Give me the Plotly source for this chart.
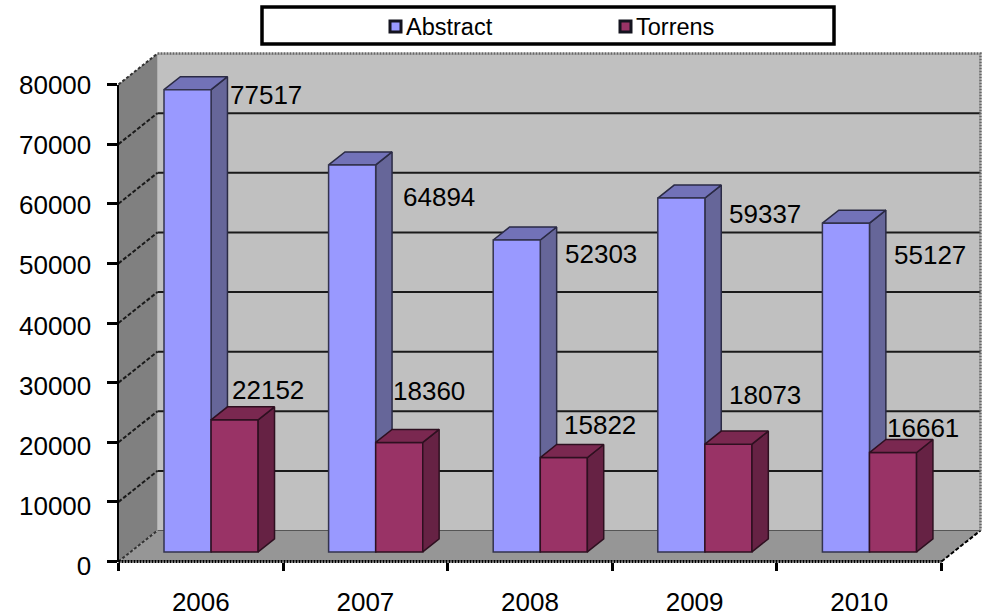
import plotly.graph_objects as go

# ---- data ----
years = ["2006", "2007", "2008", "2009", "2010"]
abstract = [77517, 64894, 52303, 59337, 55127]
torrens = [22152, 18360, 15822, 18073, 16661]
y_ticks = [0, 10000, 20000, 30000, 40000, 50000, 60000, 70000, 80000]

# ---- geometry (figure pixels) ----
W, H = 989, 616
FX0, FX1 = 118.5, 941.5  # front plane left / right
FY0, FY1 = 561.5, 84.5   # front plane y of value 0 / 80000
LY0, LY1 = 566, 85       # y-tick labels' own spacing
n = len(years)
top = y_ticks[-1]
UX = (FX1 - FX0) / n         # pixels per category
UY = (FY0 - FY1) / top       # pixels per value unit
DEPTH_DX = 39 / UX           # depth offset in category units
DEPTH_DY = 31 / UY           # depth offset in value units
Z0, Z1 = 0.31, 0.73          # bar front / back depth
BAR_W = 0.286
BAR_PAD = 0.203


def proj(u, v, z):
    return u + z * DEPTH_DX, v + z * DEPTH_DY


def poly(points):
    xs, ys = [], []
    for u, v, z in points:
        x, y = proj(u, v, z)
        xs.append(x)
        ys.append(y)
    xs.append(xs[0])
    ys.append(ys[0])
    return xs, ys


def fill_trace(points, color, axes=("x", "y"), line="#808080", lw=0):
    xs, ys = poly(points)
    return go.Scatter(x=xs, y=ys, mode="lines", fill="toself", fillcolor=color,
                      line=dict(color=line, width=lw),
                      hoverinfo="skip", showlegend=False, xaxis=axes[0], yaxis=axes[1])


def line_trace(points, color, width, dash="solid", axes=("x", "y")):
    xs, ys = [], []
    for u, v, z in points:
        x, y = proj(u, v, z)
        xs.append(x)
        ys.append(y)
    return go.Scatter(x=xs, y=ys, mode="lines", line=dict(color=color, width=width, dash=dash),
                      hoverinfo="skip", showlegend=False, xaxis=axes[0], yaxis=axes[1])


fig = go.Figure()

# walls and floor
fig.add_trace(fill_trace([(0, 0, 1), (n, 0, 1), (n, top, 1), (0, top, 1)], "#C0C0C0"))
fig.add_trace(fill_trace([(0, 0, 0), (0, 0, 1), (0, top, 1), (0, top, 0)], "#808080"))
fig.add_trace(fill_trace([(0, 0, 0), (n, 0, 0), (n, 0, 1), (0, 0, 1)], "#969696"))

# gridlines
for v in y_ticks[1:-1]:
    fig.add_trace(line_trace([(0, v, 1), (n, v, 1)], "#1a1a1a", 2))
    fig.add_trace(line_trace([(0, v, 0), (0, v, 1)], "#1a1a1a", 2, "4px,2px"))

# wall / floor outlines
fig.add_trace(line_trace([(0, top, 0), (0, top, 1)], "#333333", 2, "3px,2px"))
fig.add_trace(line_trace([(0, top, 1), (n, top, 1), (n, 0, 1)], "#666666", 2.5, "2px,1px"))
fig.add_trace(line_trace([(0, 0, 0), (0, 0, 1)], "#333333", 2, "3px,2px"))
fig.add_trace(line_trace([(n, 0, 0), (n, 0, 1)], "#000000", 2, "4px,2px"))
fig.add_trace(line_trace([(0, 0, 1), (n, 0, 1)], "#555555", 1))


def side_and_top(i, value, slot, side, cap, axes, edge):
    a = i + BAR_PAD + slot * BAR_W
    b = a + BAR_W
    return [
        fill_trace([(b, 0, Z0), (b, 0, Z1), (b, value, Z1), (b, value, Z0)], side, axes, edge, 1.5),
        fill_trace([(a, value, Z0), (b, value, Z0), (b, value, Z1), (a, value, Z1)], cap, axes, edge, 1.5),
    ]


# Abstract's side faces sit behind Torrens' front faces
for i, v in enumerate(abstract):
    fig.add_traces(side_and_top(i, v, 0, "#666699", "#7272B8", ("x", "y"), "#2a2a44"))

# front faces: drawn on an overlay subplot so they stay above Abstract's sides
for name, vals, slot, color, edge in [
    ("Abstract", abstract, 0, "#9999FF", "#33334d"),
    ("Torrens", torrens, 1, "#993366", "#2e1020"),
]:
    fig.add_trace(go.Bar(
        name=name,
        x=[proj(i + BAR_PAD + (slot + 0.5) * BAR_W, 0, Z0)[0] for i in range(n)],
        y=vals,
        base=[proj(0, 0, Z0)[1]] * n,
        width=BAR_W,
        marker=dict(color=color, line=dict(color=edge, width=1.5)),
        showlegend=False, hoverinfo="skip",
        xaxis="x2", yaxis="y2",
    ))

for i, v in enumerate(torrens):
    fig.add_traces(side_and_top(i, v, 1, "#662244", "#7A2850", ("x2", "y2"), "#2e1020"))

# x axis dotted line
fig.add_trace(line_trace([(0, 0, 0), (n, 0, 0)], "#000000", 3, "2px,1px", ("x2", "y2")))

# invisible traces that carry the tick and label axes
for xa, ya in [("x3", "y3"), ("x4", "y4")]:
    fig.add_trace(go.Scatter(x=[0.5], y=[0], mode="markers", marker=dict(opacity=0), showlegend=False,
                             hoverinfo="skip", xaxis=xa, yaxis=ya))

dom_x = [FX0 / W, FX1 / W]
dom_y = [(H - FY0) / H, (H - FY1) / H]
dom_label_y = [(H - LY0) / H, (H - LY1) / H]
x_full = [-FX0 / UX, (W - FX0) / UX]
y_full = [-(H - FY0) / UY, FY0 / UY]
font = "Liberation Sans, Arial, sans-serif"
TXT = 26

hidden = dict(visible=False, fixedrange=True, automargin=False)
fig.update_layout(
    template="none",
    width=W, height=H, autosize=False,
    margin=dict(l=0, r=0, t=0, b=0, pad=0),
    paper_bgcolor="white", plot_bgcolor="rgba(0,0,0,0)",
    barmode="overlay", showlegend=False,
    font=dict(family=font, size=TXT, color="black"),
    xaxis=dict(domain=[0, 1], range=x_full, anchor="y", **hidden),
    yaxis=dict(domain=[0, 1], range=y_full, anchor="x", **hidden),
    xaxis2=dict(overlaying="x", range=x_full, anchor="y2", **hidden),
    yaxis2=dict(overlaying="y", range=y_full, anchor="x2", **hidden),
    # tick marks and axis line on the front plane
    xaxis3=dict(domain=dom_x, range=[0, n], tickmode="array", tickvals=list(range(n + 1)),
                ticktext=[""] * (n + 1), ticks="outside", ticklen=8, tickwidth=3, tickcolor="black",
                showline=False, showgrid=False, zeroline=False, anchor="y3", fixedrange=True, automargin=False),
    yaxis3=dict(domain=dom_y, range=[0, top], tickmode="array", tickvals=y_ticks,
                ticktext=[""] * len(y_ticks), ticks="outside", ticklen=10, tickwidth=3, tickcolor="black",
                showline=True, linewidth=2, linecolor="black", showgrid=False, zeroline=False,
                anchor="x3", fixedrange=True, automargin=False),
    # tick labels, with their own vertical spacing
    xaxis4=dict(domain=dom_x, range=[0, n], tickmode="array",
                tickvals=[i + 0.5 for i in range(n)], ticktext=years,
                ticks="outside", ticklen=13, tickcolor="rgba(0,0,0,0)",
                showline=False, showgrid=False, zeroline=False, anchor="y4", fixedrange=True, automargin=False,
                tickfont=dict(size=TXT, family=font)),
    yaxis4=dict(domain=dom_label_y, range=[0, top], tickmode="array", tickvals=y_ticks,
                ticktext=[str(v) for v in y_ticks], ticks="outside", ticklen=21,
                tickcolor="rgba(0,0,0,0)", showline=False, showgrid=False, zeroline=False,
                anchor="x4", fixedrange=True, automargin=False, tickfont=dict(size=TXT, family=font)),
)


def px_x(x):
    return x / W


def px_y(y):
    return 1 - y / H


# legend box (hand-built, to match the tight swatch/text spacing)
fig.add_shape(type="rect", xref="paper", yref="paper", x0=px_x(262), x1=px_x(834), y0=px_y(7), y1=px_y(44),
              line=dict(color="black", width=3.5), fillcolor="white", layer="above")
for name, sw, tx, color in [("Abstract", 390, 404, "#9999FF"), ("Torrens", 620, 634, "#993366")]:
    fig.add_shape(type="rect", xref="paper", yref="paper", x0=px_x(sw), x1=px_x(sw + 11),
                  y0=px_y(21), y1=px_y(32), line=dict(color="#14141f", width=3), fillcolor=color, layer="above")
    fig.add_annotation(xref="paper", yref="paper", x=px_x(tx), y=px_y(27), text=name, showarrow=False,
                       xanchor="left", yanchor="middle", font=dict(size=23.5, family=font, color="black"))

# data labels
abstract_label_pos = [(228.5, 95), (401.5, 197), (563.5, 254), (727.5, 214), (892.5, 255)]
torrens_label_pos = [(230.5, 390), (391.5, 391), (562.5, 425), (727.5, 395), (885.5, 428)]
for vals, positions in [(abstract, abstract_label_pos), (torrens, torrens_label_pos)]:
    for v, (px, py) in zip(vals, positions):
        fig.add_annotation(xref="paper", yref="paper", x=px_x(px), y=px_y(py), text=str(v), showarrow=False,
                           xanchor="left", yanchor="middle", borderpad=0,
                           font=dict(size=TXT, family=font, color="black"))

fig.write_html("out.html", config=dict(displayModeBar=False),
               post_script="document.body.style.margin='0';")
